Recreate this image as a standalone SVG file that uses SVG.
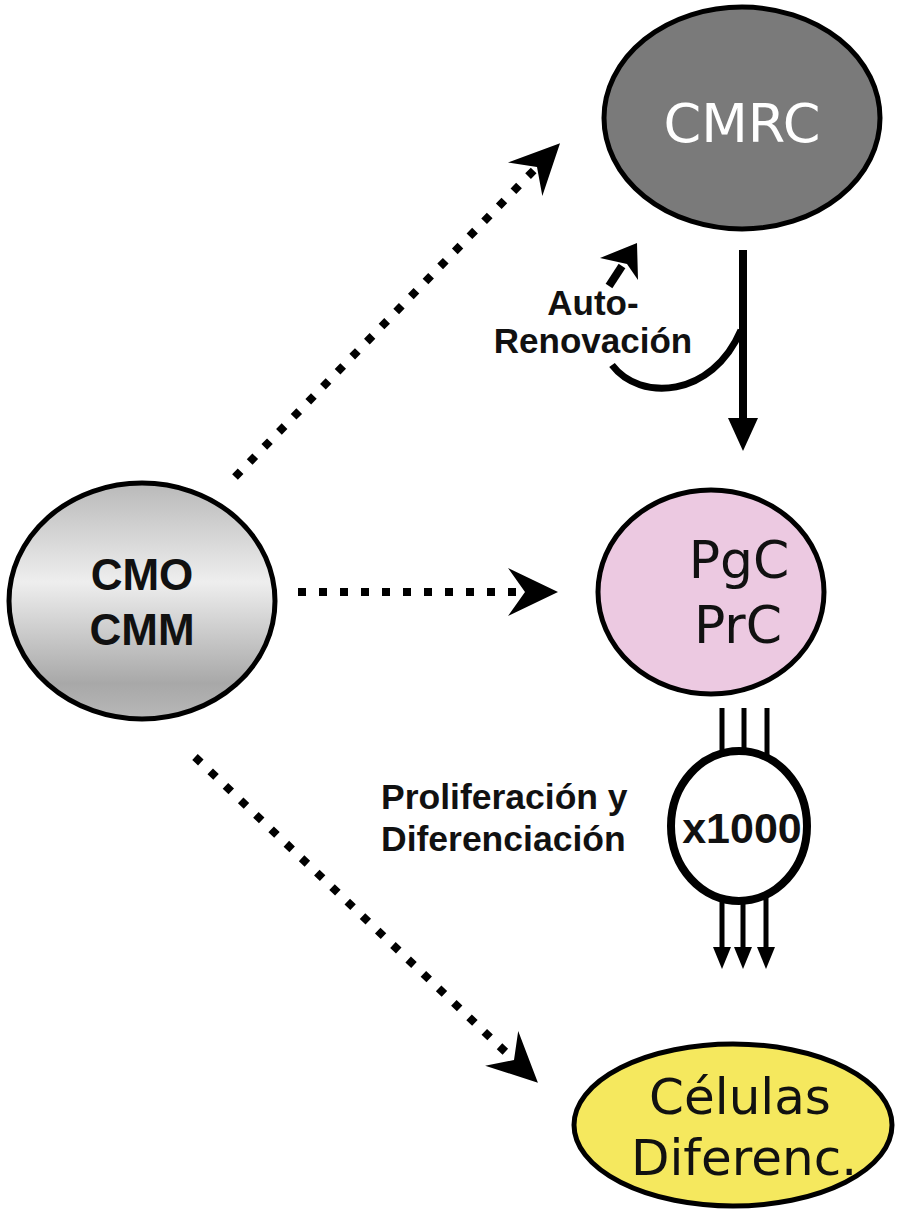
<svg xmlns="http://www.w3.org/2000/svg" width="915" height="1211" viewBox="0 0 915 1211">
<style>
.node{stroke:#000;stroke-width:5}
.lbl{font-family:"DejaVu Sans","Liberation Sans",sans-serif;text-anchor:middle}
.blbl{font-family:"Liberation Sans",Arial,sans-serif;font-weight:bold;fill:#111}
.dot{fill:none;stroke:#000;stroke-width:8;stroke-dasharray:8 13}
.solid{fill:none;stroke:#000}
</style>
<defs>
<linearGradient id="gGray" x1="0" y1="0" x2="0" y2="1">
<stop offset="0" stop-color="#b9b9b9"/>
<stop offset="0.42" stop-color="#eeeeee"/>
<stop offset="0.85" stop-color="#a8a8a8"/>
<stop offset="1" stop-color="#b8b8b8"/>
</linearGradient>
<marker id="stealth" markerUnits="userSpaceOnUse" markerWidth="60" markerHeight="60" viewBox="0 -30 60 60" refX="17" refY="0" orient="auto" overflow="visible">
<path d="M0,-24 L50,0 L0,24 L17,0 Z" fill="#000"/>
</marker>
</defs>
<rect width="915" height="1211" fill="#fff"/>

<g id="connectors">
<line class="dot" x1="235" y1="477" x2="537" y2="167" marker-end="url(#stealth)"/>
<line class="dot" x1="298" y1="592" x2="525" y2="592" marker-end="url(#stealth)"/>
<line class="dot" x1="195" y1="757" x2="514" y2="1060" marker-end="url(#stealth)"/>
<line class="solid" x1="743" y1="250" x2="743" y2="422" stroke-width="8"/>
<path d="M728,418 L743,451 L758,418 Z" fill="#000"/>
<path class="solid" d="M612,365 C640,402 712,398 741,330" stroke-width="7"/>
<line class="solid" x1="609" y1="286" x2="622" y2="266" stroke-width="8"/>
<path d="M600,258 L637,243 L638,280 L627,264 Z" fill="#000"/>
<g stroke="#000" stroke-width="5">
<line x1="722" y1="708" x2="722" y2="770"/>
<line x1="744" y1="708" x2="744" y2="770"/>
<line x1="767" y1="708" x2="767" y2="770"/>
<line x1="722" y1="890" x2="722" y2="950"/>
<line x1="743" y1="890" x2="743" y2="950"/>
<line x1="766" y1="890" x2="766" y2="950"/>
</g>
<g fill="#000">
<path d="M713,947 L722,969 L731,947 Z"/>
<path d="M734,947 L743,969 L752,947 Z"/>
<path d="M757,947 L766,969 L775,947 Z"/>
</g>
<text class="blbl" x="593" y="315" font-size="35" text-anchor="middle">Auto-</text>
<text class="blbl" x="593" y="353" font-size="35" text-anchor="middle">Renovación</text>
<text class="blbl" x="381" y="809" font-size="35.5">Proliferación y</text>
<text class="blbl" x="381" y="851" font-size="35.5">Diferenciación</text>
</g>

<g id="node-cmrc">
<ellipse class="node" cx="742" cy="118" rx="138" ry="111" fill="#7a7a7a"/>
<text class="lbl" x="742" y="142" font-size="54" fill="#fff">CMRC</text>
</g>

<g id="node-cmo">
<ellipse class="node" cx="142" cy="601" rx="133" ry="118" fill="url(#gGray)"/>
<text class="blbl" x="142" y="590" font-size="44" text-anchor="middle">CMO</text>
<text class="blbl" x="142" y="645" font-size="44" text-anchor="middle">CMM</text>
</g>

<g id="node-pgc">
<ellipse class="node" cx="711" cy="592" rx="113" ry="102" fill="#ecc9e1"/>
<text class="lbl" x="739" y="578" font-size="52" fill="#111">PgC</text>
<text class="lbl" x="738" y="643" font-size="52" fill="#111">PrC</text>
</g>

<g id="node-x1000">
<ellipse cx="739" cy="826" rx="68" ry="75" fill="#fff" stroke="#000" stroke-width="8"/>
<text class="blbl" x="742" y="843" font-size="43" text-anchor="middle">x1000</text>
</g>

<g id="node-celulas">
<ellipse class="node" cx="733" cy="1125" rx="159" ry="81" fill="#f5e85e"/>
<text class="lbl" x="740" y="1114" font-size="50" fill="#111">Células</text>
<text class="lbl" x="744" y="1175" font-size="50" fill="#111">Diferenc.</text>
</g>
</svg>
